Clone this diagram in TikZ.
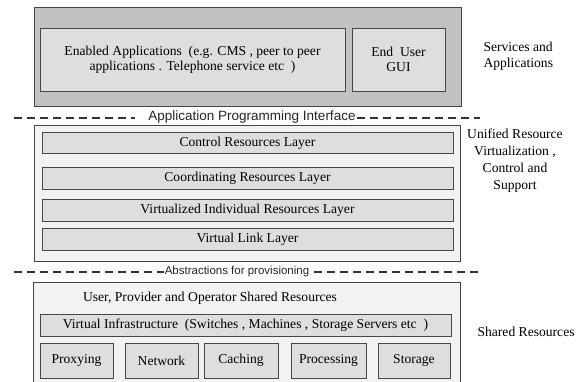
\documentclass[tikz,border=0pt]{standalone}
\usepackage{fontspec}
\setmainfont{Liberation Serif}
\newfontfamily\apifont{Liberation Sans}
\definecolor{darkfill}{gray}{0.76}
\definecolor{boxfill}{gray}{0.87}
\definecolor{panelfill}{gray}{0.95}
\definecolor{edge}{gray}{0.28}
\begin{document}
\begin{tikzpicture}[x=1pt,y=-1pt,
  panel/.style={rectangle,draw=edge,line width=0.9pt,inner sep=0pt},
  layer/.style={rectangle,draw=edge,line width=0.9pt,fill=boxfill,inner sep=0pt,
    align=center,font=\fontsize{13.6}{15.5}\selectfont},
  sidetext/.style={align=center,font=\fontsize{13.6}{17}\selectfont},
  sepline/.style={line width=2pt,dash pattern=on 8pt off 5pt,draw=black!80},
  seplabel/.style={inner sep=1pt,font=\apifont\fontsize{11.5}{13}\selectfont,text=black!85}]
  \useasboundingbox[fill=white] (0,0) rectangle (576,381);

  % services and applications
  \node[panel,fill=darkfill,minimum width=427,minimum height=99] (top) at (247.5,56.5) {};
  \node[layer,minimum width=305,minimum height=63] (apps) at (192.5,59.5)
    {Enabled Applications~ (e.g. CMS , peer to peer\\applications . Telephone service etc~ )};
  \node[layer,minimum width=93,minimum height=63] (gui) at (398.5,59.5) {End~ User\\GUI};
  \node[sidetext,align=left,anchor=west,font=\fontsize{13.6}{16}\selectfont] (services) at (480,56)
    {Services and\\Applications};

  % application programming interface
  \node[seplabel,font=\apifont\fontsize{13.5}{15}\selectfont] (api) at (252,117.5) {Application Programming Interface};
  \coordinate (apiL) at (14,117.5);
  \coordinate (apiR) at (480,117.5);
  \draw[sepline] (apiL) -- ([xshift=-12pt]api.west);
  \draw[sepline] (api.east) -- (apiR);

  % unified resource virtualization
  \node[panel,fill=panelfill,minimum width=426,minimum height=136] (mid) at (247,193) {};
  \node[layer,minimum width=411,minimum height=21] (ctrl) at (247.5,143) {Control Resources Layer};
  \node[layer,minimum width=411,minimum height=22] (coord) at (247.5,178) {Coordinating Resources Layer};
  \node[layer,minimum width=411,minimum height=22] (indiv) at (247.5,210) {Virtualized Individual Resources Layer};
  \node[layer,minimum width=411,minimum height=22] (link) at (247.5,239) {Virtual Link Layer};
  \node[sidetext] (unified) at (515,160.5)
    {Unified Resource\\Virtualization ,\\Control and\\Support};

  % abstractions for provisioning
  \node[seplabel] (abst) at (237,272) {Abstractions for provisioning};
  \coordinate (abstL) at (14,272);
  \coordinate (abstR) at (480,272);
  \draw[sepline] (abstL) -- (abst.west);
  \draw[sepline] ([xshift=4pt]abst.east) -- (abstR);

  % shared resources
  \node[panel,fill=panelfill,minimum width=427,minimum height=113] (bottom) at (246.5,338.5) {};
  \node[sidetext] (shared) at (210,298) {User, Provider and Operator Shared Resources};
  \node[layer,minimum width=411,minimum height=22] (infra) at (245.5,325)
    {Virtual Infrastructure~ (Switches , Machines , Storage Servers etc~ )};
  \node[layer,minimum width=73,minimum height=35] (proxy) at (76.5,360.5) {Proxying};
  \node[layer,minimum width=73,minimum height=35] (net) at (161.5,360.5) {Network};
  \node[layer,minimum width=74,minimum height=35] (cache) at (241,360.5) {Caching};
  \node[layer,minimum width=75,minimum height=35] (proc) at (328.5,360.5) {Processing};
  \node[layer,minimum width=72,minimum height=35] (store) at (414,360.5) {Storage};
  \node[sidetext,anchor=west] (sharedres) at (474,332) {Shared Resources};
\end{tikzpicture}
\end{document}
